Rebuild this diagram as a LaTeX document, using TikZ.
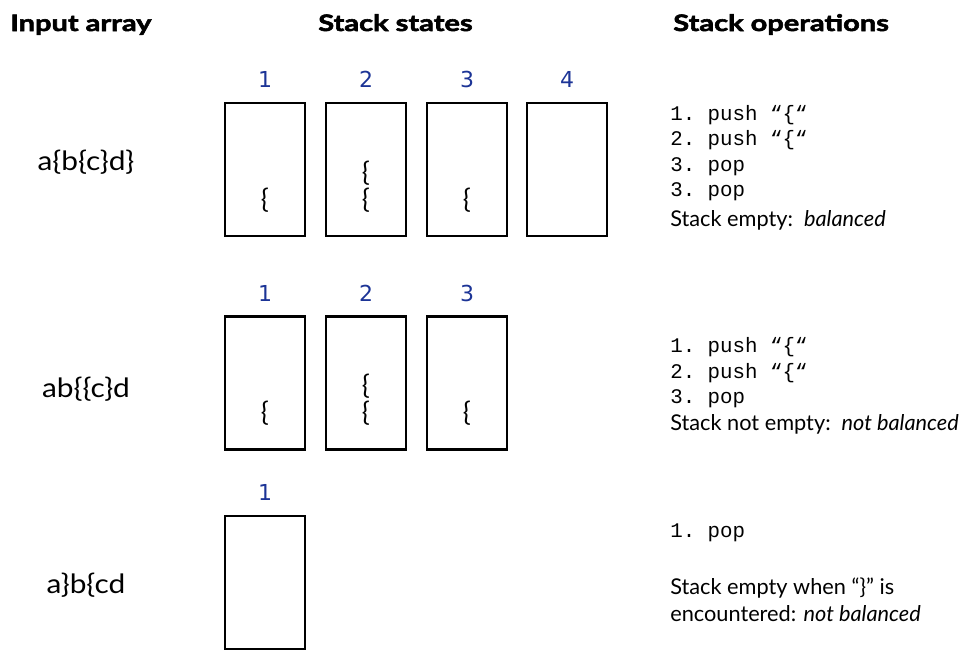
\documentclass[tikz,border=0pt]{standalone}
\usepackage{fontspec}
\setmainfont{Lato}
\setmonofont{Liberation Mono}
\newfontfamily\numfont{DejaVu Sans}
\newfontfamily\titlefont[FakeStretch=1.28,FakeBold=2.5]{Lato}
\newfontfamily\inputfont[FakeStretch=1.12]{Lato}
\definecolor{numblue}{RGB}{28,52,150}
\begin{document}
\begin{tikzpicture}[x=0.75pt,y=-0.75pt,
  title/.style={anchor=base west, inner sep=0, font=\titlefont\fontsize{17}{20}\selectfont\bfseries},
  stackbox/.style={draw, line width=1.7pt, minimum width=60pt, minimum height=99.75pt, inner sep=0},
  stepnum/.style={inner sep=0, text=numblue, font=\numfont\fontsize{16.5}{19}\selectfont},
  brace/.style={inner sep=0, font=\fontsize{20}{22}\selectfont},
  inputtext/.style={inner sep=0, font=\inputfont\fontsize{20}{24}\selectfont},
  opline/.style={anchor=base west, inner sep=0, font=\ttfamily\fontsize{15.6}{18}\selectfont},
  optext/.style={anchor=base west, inner sep=0, font=\fontsize{16.3}{19}\selectfont}]
\useasboundingbox (0,0) rectangle (967,650);

% titles
\node[title] (t1) at (10,31) {Input array};
\node[title] (t2) at (318,31) {Stack states};
\node[title] (t3) at (673,31) {Stack operations};

% input arrays
\node[inputtext] (in1) at (86,162) {a\{b\{c\}d\}};
\node[inputtext] (in2) at (86,389) {ab\{\{c\}d};
\node[inputtext] (in3) at (86,585) {a\}b\{cd};

% row 1
\node[stepnum] (n11) at (265,79) {1};
\node[stepnum] (n12) at (366,79) {2};
\node[stepnum] (n13) at (467,79) {3};
\node[stepnum] (n14) at (567,79) {4};
\node[stackbox] (b11) at (265,169.5) {};
\node[stackbox] (b12) at (366,169.5) {};
\node[stackbox] (b13) at (467,169.5) {};
\node[stackbox] (b14) at (567,169.5) {};
\node[brace] (c11) at (265,200) {\{};
\node[brace] (c12a) at (366,173) {\{};
\node[brace] (c12b) at (366,200) {\{};
\node[brace] (c13) at (467,200) {\{};

% row 2
\node[stepnum] (n21) at (265,293) {1};
\node[stepnum] (n22) at (366,293) {2};
\node[stepnum] (n23) at (467,293) {3};
\node[stackbox] (b21) at (265,383) {};
\node[stackbox] (b22) at (366,383) {};
\node[stackbox] (b23) at (467,383) {};
\node[brace] (c21) at (265,413) {\{};
\node[brace] (c22a) at (366,386) {\{};
\node[brace] (c22b) at (366,413) {\{};
\node[brace] (c23) at (467,413) {\{};

% row 3
\node[stepnum] (n31) at (265,492) {1};
\node[stackbox] (b31) at (265,582.5) {};

% operations
\node[opline] (o11) at (670,120) {1. push “\{“};
\node[opline] (o12) at (670,145.5) {2. push “\{“};
\node[opline] (o13) at (670,171) {3. pop};
\node[opline] (o14) at (670,196.5) {3. pop};
\node[optext] (o15) at (670,226) {Stack empty:\ \ \textit{balanced}};

\node[opline] (o21) at (670,352) {1. push “\{“};
\node[opline] (o22) at (670,378) {2. push “\{“};
\node[opline] (o23) at (670,403) {3. pop};
\node[optext] (o24) at (670,430) {Stack not empty:\ \ \textit{not balanced}};

\node[opline] (o31) at (670,537) {1. pop};
\node[optext] (o32) at (670,594) {Stack empty when “\}” is};
\node[optext] (o33) at (670,621) {encountered: \textit{not balanced}};
\end{tikzpicture}
\end{document}
